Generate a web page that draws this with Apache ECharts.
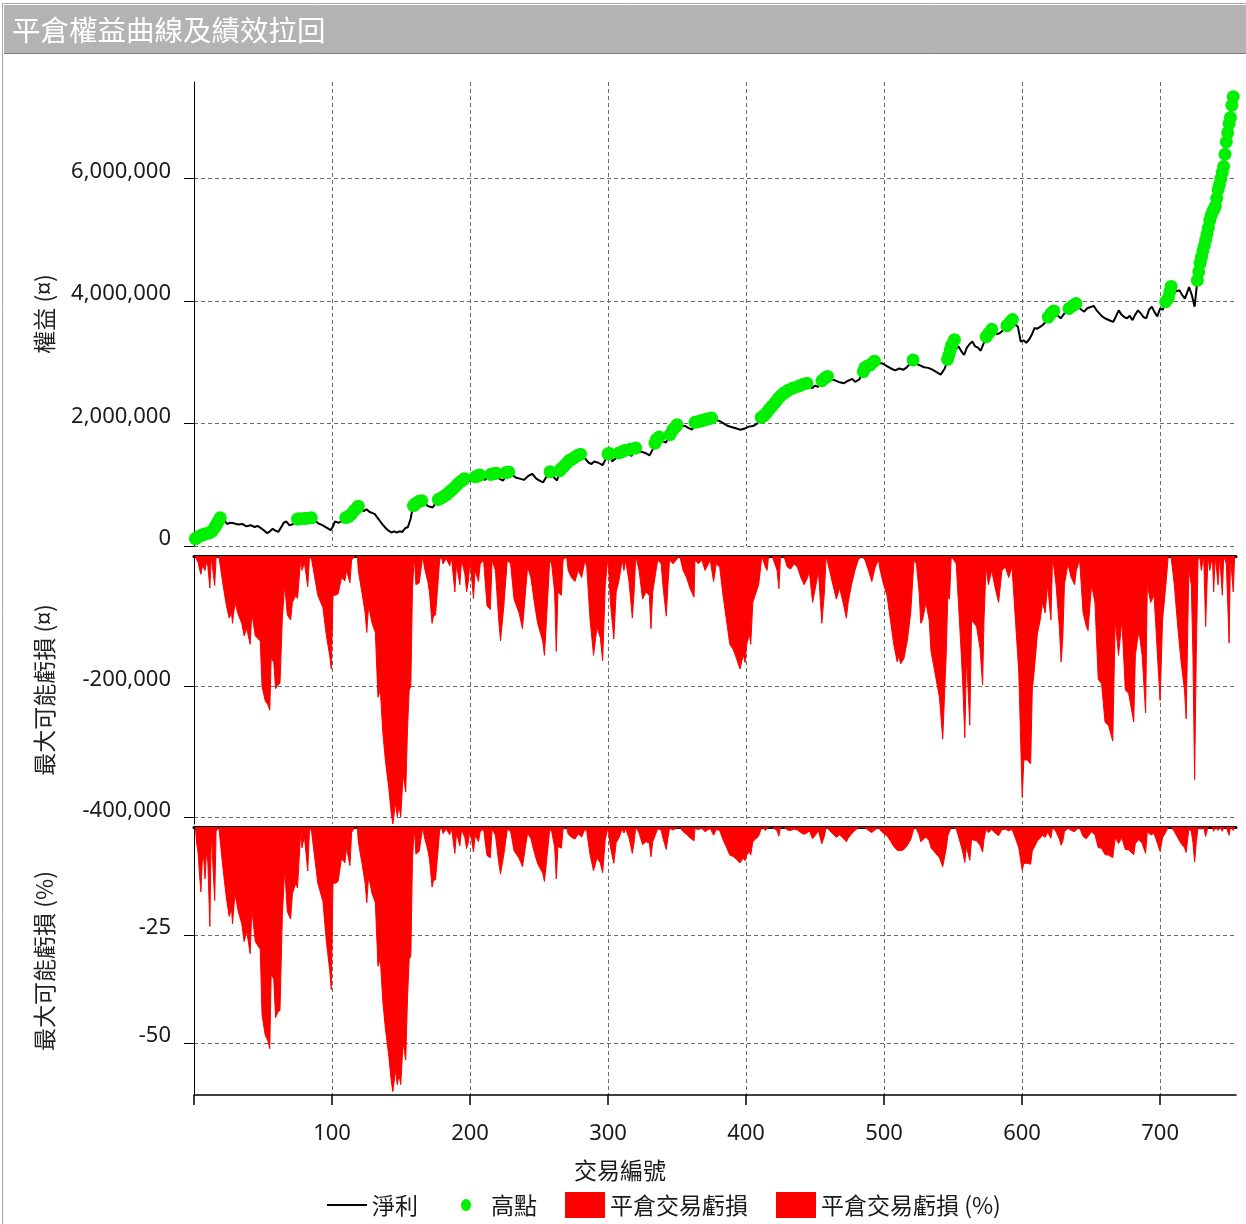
<!DOCTYPE html>
<html>
<head>
<meta charset="utf-8">
<title>平倉權益曲線及績效拉回</title>
<script src="https://cdn.jsdelivr.net/npm/echarts@6/dist/echarts.min.js"></script>
<style>
  html, body { margin: 0; padding: 0; background: #fff; }
  #main { width: 1246px; height: 1224px; }
</style>
</head>
<body>
<div id="main"></div>
<script>
// trade number, closed equity
const equity = [[1,120000],[5,170000],[9,200000],[12,220000],[15,300000],[17,380000],[19,460000],[21,440000],[24,360000],[26,380000],[29,370000],[32,350000],[35,360000],[38,320000],[41,340000],[44,310000],[46,330000],[48,300000],[51,250000],[53,210000],[55,240000],[57,280000],[59,250000],[61,230000],[63,300000],[65,380000],[67,400000],[69,340000],[71,350000],[73,380000],[75,440000],[80,450000],[85,460000],[87,430000],[90,370000],[93,340000],[96,300000],[99,260000],[101,330000],[102,400000],[105,380000],[108,420000],[110,460000],[113,500000],[116,580000],[119,650000],[121,600000],[123,570000],[125,600000],[127,560000],[129,540000],[131,520000],[133,460000],[135,400000],[137,340000],[139,290000],[141,250000],[143,220000],[145,240000],[147,220000],[149,240000],[151,230000],[153,290000],[155,310000],[157,450000],[158,570000],[159,660000],[161,700000],[163,730000],[165,740000],[167,720000],[169,660000],[171,640000],[173,630000],[175,700000],[177,760000],[180,800000],[184,860000],[188,940000],[192,1030000],[196,1100000],[198,1070000],[200,1060000],[202,1100000],[204,1130000],[207,1160000],[209,1100000],[211,1080000],[213,1140000],[215,1170000],[219,1190000],[221,1100000],[224,1070000],[226,1150000],[228,1210000],[230,1180000],[233,1120000],[236,1100000],[239,1080000],[242,1140000],[245,1180000],[248,1100000],[251,1060000],[253,1040000],[255,1120000],[258,1210000],[260,1140000],[263,1070000],[265,1200000],[268,1300000],[272,1400000],[276,1450000],[280,1500000],[283,1440000],[286,1360000],[288,1340000],[290,1380000],[293,1360000],[296,1320000],[299,1450000],[301,1510000],[303,1380000],[305,1420000],[308,1500000],[312,1560000],[315,1500000],[317,1470000],[320,1600000],[322,1560000],[324,1540000],[327,1520000],[330,1480000],[332,1560000],[335,1740000],[337,1780000],[339,1720000],[342,1690000],[344,1780000],[347,1900000],[350,1980000],[353,1960000],[356,1960000],[358,1930000],[361,1900000],[363,2020000],[367,2040000],[371,2070000],[375,2090000],[378,2060000],[381,2040000],[384,2000000],[387,1960000],[390,1940000],[393,1920000],[396,1900000],[399,1920000],[402,1950000],[405,1960000],[408,2000000],[411,2080000],[415,2180000],[419,2290000],[423,2400000],[427,2490000],[431,2550000],[434,2580000],[436,2550000],[438,2610000],[441,2640000],[444,2660000],[446,2600000],[448,2580000],[450,2620000],[452,2600000],[455,2700000],[459,2770000],[461,2720000],[464,2710000],[467,2680000],[471,2660000],[474,2700000],[477,2730000],[479,2680000],[482,2720000],[484,2800000],[486,2910000],[490,2960000],[493,3020000],[496,2990000],[499,2980000],[502,2940000],[505,2900000],[508,2870000],[511,2900000],[514,2880000],[516,2910000],[518,2960000],[521,3040000],[523,2980000],[526,2950000],[529,2920000],[532,2910000],[535,2880000],[538,2840000],[541,2800000],[542,2770000],[544,2900000],[546,3040000],[548,3200000],[551,3370000],[552,3220000],[554,3260000],[556,3180000],[558,3120000],[560,3240000],[562,3300000],[564,3340000],[566,3260000],[568,3240000],[570,3190000],[572,3300000],[574,3420000],[576,3480000],[578,3540000],[580,3500000],[582,3460000],[584,3480000],[586,3520000],[589,3600000],[591,3650000],[593,3700000],[595,3620000],[597,3580000],[599,3340000],[601,3360000],[603,3320000],[605,3370000],[607,3450000],[609,3560000],[611,3550000],[613,3580000],[615,3610000],[617,3660000],[619,3740000],[621,3800000],[623,3840000],[625,3780000],[628,3720000],[630,3780000],[632,3840000],[634,3880000],[637,3930000],[639,3960000],[641,3900000],[643,3860000],[645,3830000],[647,3880000],[649,3900000],[652,3920000],[654,3850000],[656,3800000],[658,3750000],[660,3720000],[662,3700000],[664,3680000],[666,3660000],[668,3750000],[670,3850000],[672,3780000],[674,3740000],[676,3720000],[678,3760000],[680,3690000],[682,3780000],[684,3850000],[686,3800000],[688,3740000],[690,3720000],[692,3860000],[694,3910000],[696,3820000],[698,3750000],[700,3880000],[702,3860000],[704,3990000],[706,4050000],[708,4240000],[710,4200000],[712,4160000],[714,4180000],[716,4100000],[718,4040000],[719,4020000],[721,4230000],[723,4100000],[725,3910000],[727,4340000],[729,4620000],[733,5000000],[736,5320000],[740,5550000],[742,5820000],[746,6200000],[748,6600000],[750,6900000],[751,7000000],[752,7200000],[753,7340000]];

// new equity highs
const highs = [[1,120000],[3,150000],[5,170000],[7,190000],[9,200000],[11,215000],[13,240000],[15,300000],[16,340000],[17,380000],[18,420000],[19,460000],[75,440000],[77,445000],[80,450000],[82,455000],[85,460000],[110,465000],[112,480000],[114,520000],[116,580000],[118,620000],[119,650000],[159,660000],[160,680000],[161,700000],[163,730000],[165,740000],[177,760000],[179,780000],[181,810000],[183,840000],[185,880000],[187,920000],[189,960000],[191,1010000],[193,1050000],[195,1080000],[196,1100000],[204,1130000],[206,1150000],[207,1160000],[215,1170000],[217,1180000],[219,1190000],[226,1200000],[228,1210000],[258,1215000],[265,1230000],[266,1260000],[268,1300000],[270,1350000],[272,1400000],[274,1420000],[276,1450000],[278,1480000],[280,1500000],[300,1505000],[301,1510000],[308,1520000],[310,1540000],[312,1560000],[316,1580000],[320,1600000],[334,1680000],[335,1740000],[337,1780000],[345,1820000],[347,1900000],[349,1950000],[350,1980000],[363,2020000],[365,2030000],[367,2040000],[369,2055000],[371,2070000],[373,2080000],[375,2090000],[411,2100000],[413,2130000],[415,2180000],[417,2240000],[419,2290000],[421,2340000],[423,2400000],[425,2450000],[427,2490000],[429,2520000],[431,2550000],[434,2580000],[438,2610000],[441,2640000],[444,2660000],[455,2700000],[457,2740000],[459,2770000],[485,2850000],[486,2910000],[488,2940000],[490,2960000],[493,3020000],[521,3040000],[546,3050000],[547,3120000],[548,3200000],[549,3280000],[551,3370000],[574,3420000],[576,3480000],[578,3540000],[589,3600000],[591,3650000],[593,3700000],[619,3740000],[621,3800000],[623,3840000],[634,3880000],[637,3930000],[639,3960000],[704,3990000],[706,4050000],[707,4150000],[708,4240000],[727,4340000],[728,4480000],[729,4620000],[730,4720000],[731,4820000],[732,4900000],[733,5000000],[734,5100000],[735,5200000],[736,5320000],[737,5400000],[738,5460000],[739,5500000],[740,5550000],[741,5680000],[742,5820000],[743,5900000],[744,6000000],[745,6100000],[746,6200000],[747,6400000],[748,6600000],[749,6750000],[750,6900000],[751,7000000],[752,7200000],[753,7340000]];

// max possible loss per closed trade (currency)
const ddAmount = [[1,0],[2,-6000],[3,-10000],[4,-20000],[5,-28000],[6,-15000],[7,-12000],[8,-22000],[9,-10000],[10,-15000],[11.5,-49000],[12.5,-2000],[13.5,-2000],[15,-45000],[16,-2000],[18,0],[19.4,0],[21,-44000],[23.5,-76000],[25.5,-95000],[27.2,-87000],[27.9,-103000],[29.7,-71000],[32.1,-90000],[34.6,-103000],[36.3,-122000],[38.2,-111000],[40.7,-135000],[41.9,-87000],[44.4,-122000],[48,-130000],[49.3,-200000],[51.7,-222000],[53.4,-227000],[54.9,-236000],[55.9,-157000],[57.8,-162000],[59.1,-203000],[60.8,-197000],[62.3,-195000],[64,-95000],[65.7,-44000],[67.6,-90000],[70,-98000],[71.3,-71000],[73.8,-60000],[75,-65000],[77.5,0],[78.2,-22000],[80,-10000],[82.4,-47000],[83.6,-5000],[84.8,0],[89.7,-60000],[93.4,-79000],[95.8,-120000],[98.3,-152000],[99.5,-173000],[100.7,-60000],[102.5,-60000],[104.4,-58000],[106.9,-33000],[109.3,-38000],[110.5,-22000],[113,-41000],[114.2,-6000],[116.7,0],[118.4,0],[119,-22000],[121.6,-55000],[124,-87000],[125.2,-117000],[126.5,-76000],[129,-103000],[131.4,-117000],[133.3,-216000],[135,-205000],[136.8,-270000],[138.7,-313000],[141.2,-356000],[142.9,-394000],[144.1,-410000],[146,-377000],[147.3,-399000],[148.5,-383000],[149.8,-399000],[151.5,-334000],[153.4,-361000],[154.7,-265000],[155.9,-205000],[157.1,-200000],[158.3,-50000],[159.6,0],[160.8,-44000],[163.2,-41000],[165.7,0],[166.9,-17000],[169.4,-39000],[170.6,-55000],[172.5,-103000],[173.5,-92000],[175,-90000],[176.7,-44000],[178,-6000],[179.2,0],[180.4,-12000],[182.8,-4000],[185.3,-15000],[186.5,-1000],[189,-55000],[190.2,-12000],[192.6,-44000],[193.9,-6000],[196.3,-28000],[197.5,-55000],[198.8,-39000],[200,-6000],[202.5,-65000],[203.7,-22000],[206.1,-39000],[207.4,-12000],[209.8,-6000],[212.3,-76000],[214.7,-82000],[216,-6000],[218.4,-22000],[220.8,-98000],[222.1,-130000],[224.5,-76000],[227,-6000],[229.4,-12000],[231.9,-66000],[235.5,-87000],[238,-111000],[239.2,-114000],[241.7,-17000],[244.1,-33000],[246.6,-71000],[249,-103000],[252.7,-130000],[253.9,-152000],[255.1,-109000],[257.6,-12000],[258.8,-6000],[261.3,-55000],[262.5,-146000],[263.7,-55000],[266.2,-60000],[267.4,-6000],[269.9,0],[271.1,-22000],[273.5,-33000],[276,-39000],[278.4,-22000],[280.9,-33000],[283.3,-6000],[284.6,-17000],[287,-98000],[289.5,-152000],[292,-109000],[294.4,-125000],[296.1,-160000],[298,-44000],[300,0],[301.7,-71000],[304.2,-127000],[305.9,-55000],[307.8,-39000],[310.3,-6000],[311.5,-22000],[312.7,-6000],[315.2,-39000],[317.6,-95000],[318.9,-55000],[320.1,0],[322.5,-22000],[325,-66000],[327.5,-55000],[329.9,-60000],[331.1,-111000],[332.4,-55000],[334.8,-22000],[336,-6000],[338.5,-12000],[339.7,-44000],[342.2,-92000],[343.4,-44000],[344.6,-6000],[347.1,-12000],[349.5,-6000],[352,0],[354.4,-22000],[356.9,-33000],[359.3,-49000],[362.3,-63000],[363,-6000],[365.4,-12000],[367.9,-6000],[370.3,-22000],[371.6,-17000],[374,-6000],[376.5,-39000],[378.4,-12000],[380.9,-17000],[383.3,-60000],[385.8,-98000],[388.2,-135000],[390.7,-143000],[393.1,-157000],[395.6,-173000],[398,-151000],[399.3,-163000],[400.5,-135000],[402.4,-119000],[403.4,-135000],[404.9,-71000],[406.6,-60000],[409.1,-44000],[411.5,0],[414,-17000],[415.2,-22000],[416.4,0],[418.9,0],[422.5,-22000],[423.8,-50000],[425,0],[427.4,0],[429.9,-17000],[432.3,-20000],[434.8,-12000],[437.2,-17000],[439.7,-33000],[442.1,-44000],[444.6,-33000],[445.8,-22000],[448.2,-71000],[450.7,-44000],[452.4,-22000],[454.9,-103000],[456.8,-55000],[458,0],[460.5,-22000],[462.9,-44000],[465.4,-66000],[467.8,-49000],[470.3,-71000],[472.7,-95000],[474,-71000],[476.4,-44000],[478.9,-22000],[481.3,-6000],[483.8,0],[486.2,-6000],[488.7,-22000],[491.1,-39000],[493.6,-17000],[496,-6000],[497.2,-22000],[499.7,-44000],[502.1,-60000],[504.6,-98000],[507,-135000],[509.5,-162000],[510.7,-152000],[511.9,-165000],[514.4,-157000],[516.8,-130000],[519.3,-87000],[521.7,-6000],[523.4,-12000],[525.4,-55000],[526.6,-103000],[527.9,-98000],[530.3,-71000],[532.7,-98000],[534,-146000],[536.4,-173000],[540.1,-216000],[542.5,-280000],[545,-152000],[546.2,-60000],[547.4,-66000],[548.7,0],[549.9,0],[552.3,-12000],[556,-152000],[557.2,-205000],[558.5,-278000],[559.7,-152000],[560.9,-205000],[562.1,-259000],[563.4,-98000],[567,-108000],[569.5,-141000],[571.4,-197000],[572.4,-98000],[573.9,-17000],[575.6,-44000],[578,-22000],[580.5,-49000],[583,-71000],[585.4,-22000],[587.9,-17000],[590.3,-33000],[592.7,-17000],[595.2,-98000],[597.6,-178000],[600.1,-369000],[601.3,-312000],[603.8,-312000],[606.2,-318000],[607.4,-205000],[608.7,-178000],[611.1,-119000],[613.1,-98000],[614.8,-71000],[616.7,-87000],[618.5,-44000],[620.9,-98000],[622.1,0],[624.6,-44000],[627,-109000],[628.3,-162000],[629.5,-125000],[630.7,-44000],[633.2,-12000],[635.6,-33000],[638.1,-44000],[639.3,-22000],[641.7,-6000],[644.2,-87000],[646.6,-108000],[647.8,-114000],[650.3,-44000],[652.8,-71000],[655.2,-189000],[657.6,-195000],[660.1,-254000],[662.6,-259000],[665.7,-283000],[667.5,-98000],[669.9,-152000],[672.3,-98000],[674.8,-205000],[677.2,-210000],[680.9,-254000],[682.1,-152000],[684.6,-114000],[687,-152000],[689.5,-240000],[690.7,-44000],[693.2,-71000],[695.6,-60000],[696.8,-103000],[698.1,-152000],[700,-221000],[701.8,-98000],[704.2,-44000],[705.9,0],[707.9,0],[710.3,-44000],[712.8,-108000],[715.2,-162000],[717.7,-205000],[718.9,-249000],[720.8,-22000],[722.6,-44000],[723.8,-152000],[725,-342000],[726.2,-152000],[727.5,-6000],[728.7,0],[729.9,-22000],[731.6,0],[733,-108000],[734.7,0],[736,-22000],[737.9,0],[738.8,-55000],[740,0],[742,-44000],[743.2,0],[745.1,-60000],[746.1,0],[748,-12000],[750,-133000],[751,0],[753,-55000],[754,0]];

// max possible loss per closed trade (%)
const ddPercent = [[1,0],[2,-4],[3,-6],[4,-11],[5,-15],[6,-8],[7,-7],[8,-12],[9,-6],[10,-8],[11.5,-23],[12.5,-1],[13.5,-1],[15,-17],[16,-1],[18,0],[19.4,0],[21,-9.6],[23.5,-16.5],[25.5,-20.7],[27.2,-18.9],[27.9,-22.4],[29.7,-15.4],[32.1,-19.6],[34.6,-22.4],[36.3,-26.5],[38.2,-24.1],[40.7,-29.3],[41.9,-18.9],[44.4,-26.5],[48,-28.3],[49.3,-43.5],[51.7,-48.3],[53.4,-49.3],[54.9,-51.3],[55.9,-34.1],[57.8,-35.2],[59.1,-44.1],[60.8,-42.8],[62.3,-42.4],[64,-20.7],[65.7,-9.6],[67.6,-19.6],[70,-21.3],[71.3,-15.4],[73.8,-13],[75,-14.1],[77.5,0],[78.2,-4.8],[80,-2.2],[82.4,-10.2],[83.6,-1.1],[84.8,0],[89.7,-13],[93.4,-17.2],[95.8,-26.1],[98.3,-33],[99.5,-37.6],[100.7,-13],[102.5,-13],[104.4,-12.6],[106.9,-7.2],[109.3,-8.3],[110.5,-4.8],[113,-8.9],[114.2,-1.3],[116.7,0],[118.4,0],[119,-3.3],[121.6,-8.2],[124,-13],[125.2,-17.5],[126.5,-11.3],[129,-15.4],[131.4,-17.5],[133.3,-32.2],[135,-30.6],[136.8,-40.3],[138.7,-46.7],[141.2,-53.1],[142.9,-58.8],[144.1,-61.2],[146,-56.3],[147.3,-59.6],[148.5,-57.2],[149.8,-59.6],[151.5,-49.9],[153.4,-53.9],[154.7,-39.6],[155.9,-30.6],[157.1,-29.9],[158.3,-7.5],[159.6,0],[160.8,-6.3],[163.2,-5.6],[165.7,0],[166.9,-2.3],[169.4,-5.3],[170.6,-7.4],[172.5,-13.9],[173.5,-12.4],[175,-12.2],[176.7,-5.9],[178,-0.8],[179.2,0],[180.4,-1.5],[182.8,-0.5],[185.3,-1.8],[186.5,-0.1],[189,-6.1],[190.2,-1.3],[192.6,-4.4],[193.9,-0.6],[196.3,-2.5],[197.5,-5],[198.8,-3.5],[200,-0.5],[202.5,-5.8],[203.7,-1.9],[206.1,-3.4],[207.4,-1],[209.8,-0.5],[212.3,-6.6],[214.7,-7.1],[216,-0.5],[218.4,-1.9],[220.8,-8.2],[222.1,-10.9],[224.5,-6.4],[227,-0.5],[229.4,-1],[231.9,-5.5],[235.5,-7.2],[238,-9.2],[239.2,-9.4],[241.7,-1.4],[244.1,-2.7],[246.6,-5.9],[249,-8.5],[252.7,-10.7],[253.9,-12.6],[255.1,-9],[257.6,-1],[258.8,-0.5],[261.3,-4.5],[262.5,-12],[263.7,-4.5],[266.2,-4.9],[267.4,-0.5],[269.9,0],[271.1,-1.6],[273.5,-2.4],[276,-2.8],[278.4,-1.6],[280.9,-2.3],[283.3,-0.4],[284.6,-1.1],[287,-6.5],[289.5,-10.1],[292,-7.2],[294.4,-8.3],[296.1,-10.6],[298,-2.9],[300,0],[301.7,-4.7],[304.2,-8.4],[305.9,-3.6],[307.8,-2.6],[310.3,-0.4],[311.5,-1.4],[312.7,-0.4],[315.2,-2.5],[317.6,-6.1],[318.9,-3.5],[320.1,0],[322.5,-1.4],[325,-4.1],[327.5,-3.4],[329.9,-3.7],[331.1,-6.9],[332.4,-3.4],[334.8,-1.4],[336,-0.4],[338.5,-0.7],[339.7,-2.5],[342.2,-5.2],[343.4,-2.5],[344.6,-0.3],[347.1,-0.7],[349.5,-0.3],[352,0],[354.4,-1.1],[356.9,-1.7],[359.3,-2.5],[362.3,-3.2],[363,-0.3],[365.4,-0.6],[367.9,-0.3],[370.3,-1.1],[371.6,-0.8],[374,-0.3],[376.5,-1.9],[378.4,-0.6],[380.9,-0.8],[383.3,-2.9],[385.8,-4.7],[388.2,-6.5],[390.7,-6.8],[393.1,-7.5],[395.6,-8.3],[398,-7.2],[399.3,-7.8],[400.5,-6.5],[402.4,-5.7],[403.4,-6.5],[404.9,-3.4],[406.6,-2.9],[409.1,-2.1],[411.5,0],[414,-0.8],[415.2,-1],[416.4,0],[418.9,0],[422.5,-0.9],[423.8,-2.1],[425,0],[427.4,0],[429.9,-0.7],[432.3,-0.8],[434.8,-0.5],[437.2,-0.7],[439.7,-1.3],[442.1,-1.7],[444.6,-1.3],[445.8,-0.8],[448.2,-2.7],[450.7,-1.7],[452.4,-0.8],[454.9,-3.9],[456.8,-2.1],[458,0],[460.5,-0.8],[462.9,-1.6],[465.4,-2.4],[467.8,-1.8],[470.3,-2.6],[472.7,-3.4],[474,-2.6],[476.4,-1.6],[478.9,-0.8],[481.3,-0.2],[483.8,0],[486.2,-0.2],[488.7,-0.8],[491.1,-1.3],[493.6,-0.6],[496,-0.2],[497.2,-0.7],[499.7,-1.5],[502.1,-2],[504.6,-3.2],[507,-4.5],[509.5,-5.4],[510.7,-5],[511.9,-5.5],[514.4,-5.2],[516.8,-4.3],[519.3,-2.9],[521.7,-0.2],[523.4,-0.4],[525.4,-1.8],[526.6,-3.4],[527.9,-3.2],[530.3,-2.3],[532.7,-3.2],[534,-4.8],[536.4,-5.7],[540.1,-7.1],[542.5,-9.2],[545,-5],[546.2,-2],[547.4,-2.2],[548.7,0],[549.9,0],[552.3,-0.4],[556,-4.5],[557.2,-6.1],[558.5,-8.2],[559.7,-4.5],[560.9,-6.1],[562.1,-7.7],[563.4,-2.9],[567,-3.2],[569.5,-4.2],[571.4,-5.8],[572.4,-2.9],[573.9,-0.5],[575.6,-1.3],[578,-0.6],[580.5,-1.4],[583,-2],[585.4,-0.6],[587.9,-0.5],[590.3,-0.9],[592.7,-0.5],[595.2,-2.6],[597.6,-4.8],[600.1,-10],[601.3,-8.4],[603.8,-8.4],[606.2,-8.6],[607.4,-5.5],[608.7,-4.8],[611.1,-3.2],[613.1,-2.6],[614.8,-1.9],[616.7,-2.4],[618.5,-1.2],[620.9,-2.6],[622.1,0],[624.6,-1.1],[627,-2.8],[628.3,-4.2],[629.5,-3.3],[630.7,-1.1],[633.2,-0.3],[635.6,-0.8],[638.1,-1.1],[639.3,-0.6],[641.7,-0.2],[644.2,-2.2],[646.6,-2.7],[647.8,-2.9],[650.3,-1.1],[652.8,-1.8],[655.2,-4.8],[657.6,-4.9],[660.1,-6.4],[662.6,-6.5],[665.7,-7.1],[667.5,-2.5],[669.9,-3.8],[672.3,-2.5],[674.8,-5.2],[677.2,-5.3],[680.9,-6.4],[682.1,-3.8],[684.6,-2.9],[687,-3.8],[689.5,-6.1],[690.7,-1.1],[693.2,-1.8],[695.6,-1.5],[696.8,-2.6],[698.1,-3.8],[700,-5.6],[701.8,-2.5],[704.2,-1.1],[705.9,0],[707.9,0],[710.3,-1],[712.8,-2.5],[715.2,-3.8],[717.7,-4.8],[718.9,-5.9],[720.8,-0.5],[722.6,-1],[723.8,-3.6],[725,-8.1],[726.2,-3.6],[727.5,-0.1],[728.7,0],[729.9,-0.5],[731.6,0],[733,-2.2],[734.7,0],[736,-0.4],[737.9,0],[738.8,-1],[740,0],[742,-0.8],[743.2,0],[745.1,-1],[746.1,0],[748,-0.2],[750,-1.9],[751,0],[753,-0.8],[754,0]];

const xTicks = [0, 100, 200, 300, 400, 500, 600, 700];
const xLabels = [100, 200, 300, 400, 500, 600, 700];
const equityTicks = [0, 2000000, 4000000, 6000000];
const amountTicks = [-400000, -200000];
const percentTicks = [-50, -25];

const NUM_FONT = '"Noto Sans", "Noto Sans CJK TC", sans-serif';
const CJK_FONT = '"Noto Sans CJK TC", "Noto Sans", sans-serif';
const TEXT = '#1a1a1a';
const GREEN = '#00f000';

const chart = echarts.init(document.getElementById('main'));

const dashed = { show: true, lineStyle: { color: '#6a6a6a', width: 1, type: [4, 3] } };
const fmt = v => Number(v).toLocaleString('en-US');

const xBase = gi => ({
  gridIndex: gi, type: 'value', min: 0, max: 755,
  axisLabel: { show: false },
  axisTick: { show: false, customValues: xTicks },
  splitLine: dashed
});

const yBase = (gi, min, max, ticks, name) => ({
  gridIndex: gi, type: 'value', min: min, max: max,
  name: name, nameLocation: 'middle', nameGap: 138, nameRotate: 90,
  nameTextStyle: { fontFamily: CJK_FONT, fontSize: 23, color: '#222' },
  axisLine: { show: true, onZero: false, lineStyle: { color: '#000', width: 1 } },
  axisTick: { show: true, length: 10, customValues: ticks, lineStyle: { color: '#000', width: 1 } },
  axisLabel: {
    customValues: ticks, formatter: fmt, margin: 23,
    fontFamily: NUM_FONT, fontSize: 22, color: TEXT,
    verticalAlign: 'bottom', lineHeight: 14
  },
  splitLine: dashed
});

const option = {
  animation: false,
  backgroundColor: '#fff',
  title: {
    text: '平倉權益曲線及績效拉回',
    left: 12, top: 16, padding: 0,
    textStyle: { color: '#fff', fontSize: 28.5, fontWeight: 'normal', fontFamily: CJK_FONT }
  },
  graphic: [
    { type: 'rect', z: -1, shape: { x: 2.5, y: 3.5, width: 1260, height: 1240 },
      style: { fill: '#fff', stroke: '#a6a6a6', lineWidth: 1 } },
    { type: 'rect', z: 0, shape: { x: 4, y: 5, width: 1242, height: 48 },
      style: { fill: '#b3b3b3' } },
    { type: 'line', z: 0, shape: { x1: 4, y1: 53.5, x2: 1246, y2: 53.5 },
      style: { stroke: '#7c7c7c', lineWidth: 1 } },
    { type: 'text', z: 10, style: {
        x: 620, y: 1170, text: '交易編號', align: 'center', verticalAlign: 'middle',
        font: '23px ' + CJK_FONT, fill: TEXT } }
  ],
  legend: {
    left: 322, top: 1187, itemWidth: 40, itemHeight: 26, itemGap: 28,
    selectedMode: false,
    textStyle: { fontFamily: CJK_FONT, fontSize: 23, color: TEXT },
    data: [
      { name: '淨利', icon: 'path://M0,0M40,26M0,12L40,12L40,14L0,14Z' },
      { name: '高點', icon: 'path://M0,0M40,26M25,13A5,6,0,1,1,15,13A5,6,0,1,1,25,13Z',
        itemStyle: { color: GREEN, opacity: 1 } },
      { name: '平倉交易虧損', icon: 'rect' },
      { name: '平倉交易虧損 (%)', icon: 'rect' }
    ]
  },
  grid: [
    { left: 194, right: 10, top: 82, height: 464 },
    { left: 194, right: 10, top: 556, height: 268 },
    { left: 194, right: 10, top: 827, height: 268 }
  ],
  xAxis: [
    Object.assign(xBase(0), { axisLine: { show: false } }),
    Object.assign(xBase(1), { position: 'top',
      axisLine: { show: true, onZero: false, lineStyle: { color: '#000', width: 3 } } }),
    Object.assign(xBase(2), { position: 'top',
      axisLine: { show: true, onZero: false, lineStyle: { color: '#000', width: 3 } } }),
    {
      gridIndex: 2, type: 'value', min: 0, max: 755, position: 'bottom',
      axisLine: { show: true, onZero: false, lineStyle: { color: '#000', width: 1.5 } },
      axisTick: { show: true, length: 10, customValues: xTicks, lineStyle: { color: '#000', width: 1.5 } },
      axisLabel: { customValues: xLabels, margin: 28, fontFamily: NUM_FONT, fontSize: 22, color: TEXT },
      splitLine: { show: false }
    }
  ],
  yAxis: [
    yBase(0, 0, 7580000, equityTicks, '權益 (¤)'),
    yBase(1, -410000, 0, amountTicks, '最大可能虧損 (¤)'),
    yBase(2, -62, 0, percentTicks, '最大可能虧損 (%)')
  ],
  series: [
    {
      name: '淨利', type: 'line', xAxisIndex: 0, yAxisIndex: 0,
      data: equity, symbol: 'none', z: 3,
      lineStyle: { color: '#000', width: 2 }, itemStyle: { color: '#000' }
    },
    {
      name: '高點', type: 'scatter', xAxisIndex: 0, yAxisIndex: 0,
      data: highs, symbolSize: 13, z: 4,
      itemStyle: { color: GREEN, opacity: 1 }
    },
    {
      name: '平倉交易虧損', type: 'line', xAxisIndex: 1, yAxisIndex: 1,
      data: ddAmount, symbol: 'none', z: 2,
      lineStyle: { color: '#ff0000', width: 1 },
      itemStyle: { color: '#ff0000' },
      areaStyle: { color: '#ff0000', opacity: 1 }
    },
    {
      name: '平倉交易虧損 (%)', type: 'line', xAxisIndex: 2, yAxisIndex: 2,
      data: ddPercent, symbol: 'none', z: 2,
      lineStyle: { color: '#ff0000', width: 1 },
      itemStyle: { color: '#ff0000' },
      areaStyle: { color: '#ff0000', opacity: 1 }
    }
  ]
};

chart.setOption(option);
</script>
</body>
</html>
